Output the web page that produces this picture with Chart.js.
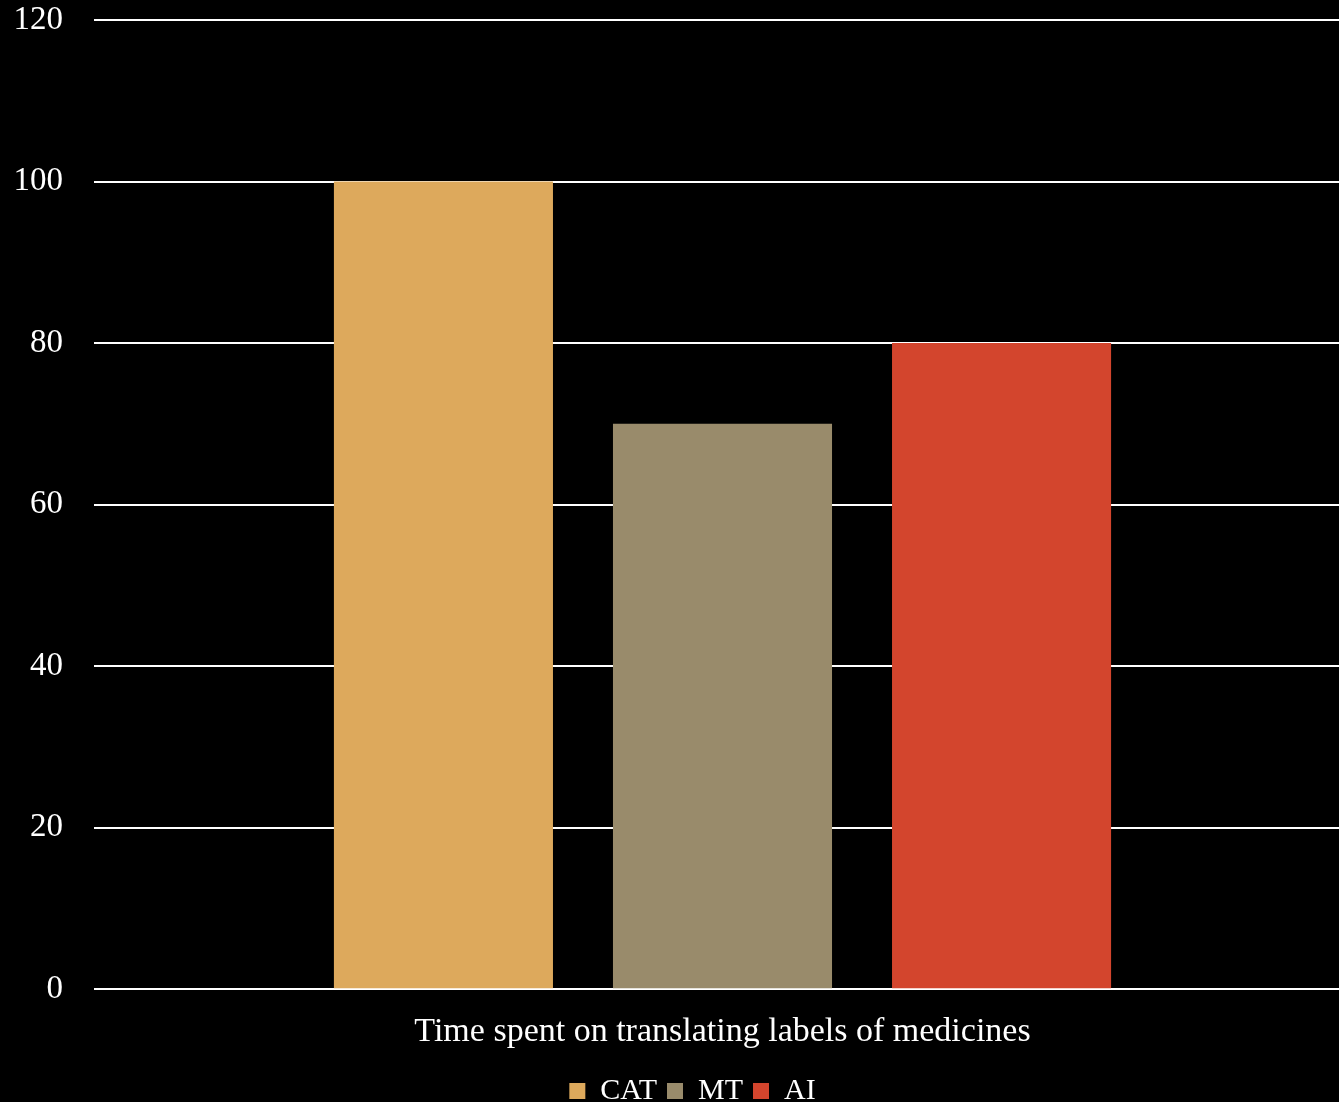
<!DOCTYPE html>
<html>
<head>
<meta charset="utf-8">
<script src="https://cdn.jsdelivr.net/npm/chart.js@4/dist/chart.umd.min.js"></script>
<style>
  html, body { margin: 0; padding: 0; background: #000; overflow: hidden; }
  #wrap { width: 1351px; height: 1102px; }
</style>
</head>
<body>
<div id="wrap"><canvas id="barChart"></canvas></div>
<script>
let categories = ["Time spent on translating labels of medicines"];
let seriesNames = ["CAT", "MT", "AI"];
let seriesValues = [[100], [70], [80]];
let seriesColors = ["#DDA95C", "#998B6B", "#D3452D"];
let yTicks = [0, 20, 40, 60, 80, 100, 120];

Chart.defaults.font.family = "'Liberation Serif', 'DejaVu Serif', serif";
Chart.defaults.color = "#ffffff";

let ctx = document.getElementById("barChart").getContext("2d");

// nudge the legend row a little to the right
let legendShift = {
  id: "legendShift",
  afterLayout: c => { c.legend.left += 20; }
};

let chart = new Chart(ctx, {
  type: "bar",
  data: {
    labels: categories,
    datasets: seriesNames.map((name, i) => ({
      label: name,
      data: seriesValues[i],
      backgroundColor: seriesColors[i],
      borderWidth: 0
    }))
  },
  options: {
    responsive: true,
    maintainAspectRatio: false,
    animation: false,
    categoryPercentage: 0.666,
    barPercentage: 0.785,
    layout: { padding: { left: 14, right: 0, top: 20, bottom: -14 } },
    plugins: {
      legend: {
        position: "bottom",
        labels: {
          font: { size: 30 },
          boxWidth: 16,
          boxHeight: 16,
          padding: 10,
          color: "#ffffff"
        }
      },
      tooltip: { enabled: false }
    },
    scales: {
      x: {
        grid: { display: false },
        border: { display: false },
        ticks: { font: { size: 34 }, padding: 14, color: "#ffffff" }
      },
      y: {
        min: yTicks[0],
        max: yTicks[yTicks.length - 1],
        afterBuildTicks: axis => { axis.ticks = yTicks.map(v => ({ value: v })); },
        afterFit: axis => {
          axis.width = 80;
          axis.paddingTop = 0;
          axis.paddingBottom = 0;
        },
        grid: { color: "#ffffff", lineWidth: 2, drawTicks: false },
        border: { display: false },
        ticks: { font: { size: 33 }, padding: 31, color: "#ffffff" }
      }
    }
  },
  plugins: [legendShift]
});
</script>
</body>
</html>
